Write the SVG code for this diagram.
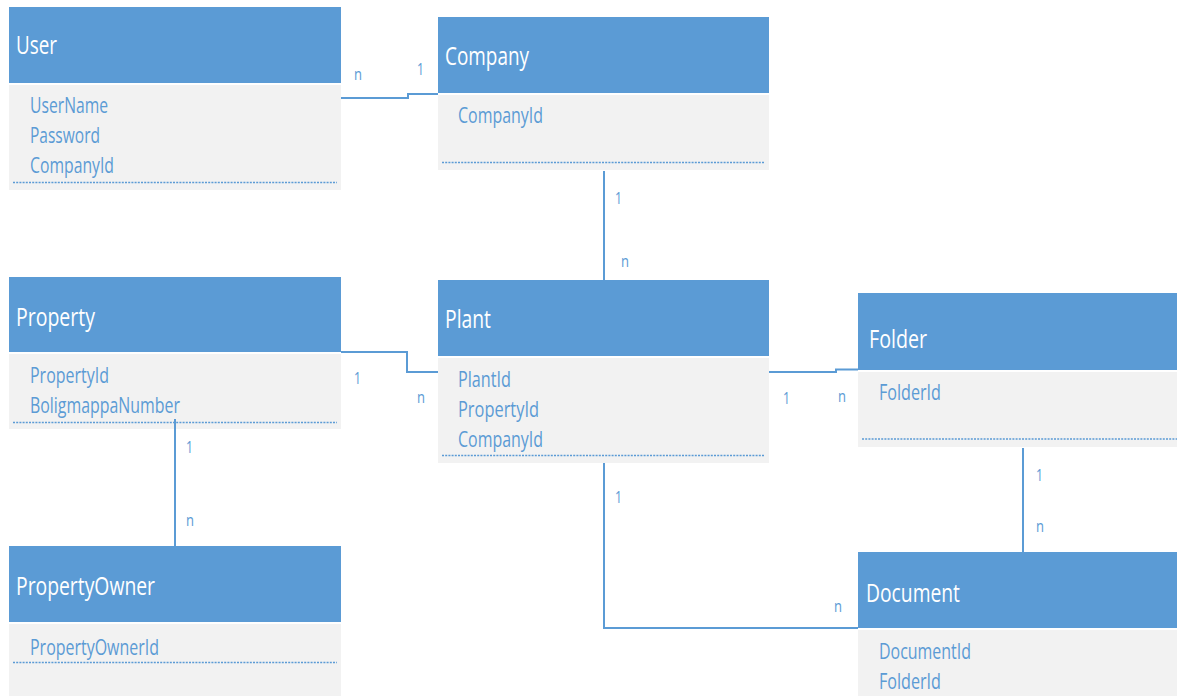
<svg xmlns="http://www.w3.org/2000/svg" width="1177" height="696" viewBox="0 0 1177 696">
<style>
.hd{fill:#5b9bd5}
.bd{fill:#f2f2f2}
.dot{stroke:#5b9bd5;stroke-width:1.5;stroke-dasharray:2 1.2;fill:none}
.tt{font-family:"Open Sans","Noto Sans",sans-serif;font-size:26px;fill:#ffffff}
.at{font-family:"Open Sans","Noto Sans",sans-serif;font-size:21px;fill:#5b9bd5}
.lb{font-family:"Open Sans","Noto Sans",sans-serif;font-size:17px;fill:#5b9bd5}
.cn{stroke:#5b9bd5;stroke-width:2;fill:none}
</style>
<rect width="1177" height="696" fill="#ffffff"/>
<g id="user">
<rect class="hd" x="9" y="7" width="332" height="76"/>
<rect class="bd" x="9" y="85" width="332" height="105"/>
<text class="tt" x="16" y="54" textLength="41" lengthAdjust="spacingAndGlyphs">User</text>
<text class="at" x="30" y="113" textLength="78" lengthAdjust="spacingAndGlyphs">UserName</text>
<text class="at" x="30" y="143" textLength="70" lengthAdjust="spacingAndGlyphs">Password</text>
<text class="at" x="30" y="173" textLength="84" lengthAdjust="spacingAndGlyphs">CompanyId</text>
<line class="dot" x1="13" y1="182.5" x2="337" y2="182.5"/>
</g>
<g id="company">
<rect class="hd" x="438" y="17" width="331" height="76"/>
<rect class="bd" x="438" y="95" width="331" height="75"/>
<text class="tt" x="445" y="65" textLength="84" lengthAdjust="spacingAndGlyphs">Company</text>
<text class="at" x="458" y="123" textLength="85" lengthAdjust="spacingAndGlyphs">CompanyId</text>
<line class="dot" x1="442" y1="162.5" x2="765" y2="162.5"/>
</g>
<g id="property">
<rect class="hd" x="9" y="277" width="332" height="75"/>
<rect class="bd" x="9" y="354" width="332" height="75"/>
<text class="tt" x="16" y="326" textLength="79" lengthAdjust="spacingAndGlyphs">Property</text>
<text class="at" x="30" y="383" textLength="79" lengthAdjust="spacingAndGlyphs">PropertyId</text>
<text class="at" x="30" y="413" textLength="150" lengthAdjust="spacingAndGlyphs">BoligmappaNumber</text>
<line class="dot" x1="13" y1="422.5" x2="337" y2="422.5"/>
</g>
<g id="plant">
<rect class="hd" x="438" y="280" width="331" height="76"/>
<rect class="bd" x="438" y="358" width="331" height="105"/>
<text class="tt" x="445" y="328" textLength="46" lengthAdjust="spacingAndGlyphs">Plant</text>
<text class="at" x="458" y="387" textLength="53" lengthAdjust="spacingAndGlyphs">PlantId</text>
<text class="at" x="458" y="417" textLength="81" lengthAdjust="spacingAndGlyphs">PropertyId</text>
<text class="at" x="458" y="447" textLength="85" lengthAdjust="spacingAndGlyphs">CompanyId</text>
<line class="dot" x1="442" y1="455.5" x2="765" y2="455.5"/>
</g>
<g id="folder">
<rect class="hd" x="858" y="293" width="319" height="77"/>
<rect class="bd" x="858" y="372" width="319" height="75"/>
<text class="tt" x="869" y="348" textLength="58" lengthAdjust="spacingAndGlyphs">Folder</text>
<text class="at" x="879" y="400" textLength="62" lengthAdjust="spacingAndGlyphs">FolderId</text>
<line class="dot" x1="862" y1="439" x2="1177" y2="439"/>
</g>
<g id="document">
<rect class="hd" x="858" y="552" width="319" height="76"/>
<rect class="bd" x="858" y="630" width="319" height="66"/>
<text class="tt" x="866" y="602" textLength="94" lengthAdjust="spacingAndGlyphs">Document</text>
<text class="at" x="879" y="659" textLength="92" lengthAdjust="spacingAndGlyphs">DocumentId</text>
<text class="at" x="879" y="689" textLength="62" lengthAdjust="spacingAndGlyphs">FolderId</text>
</g>
<g id="propertyowner">
<rect class="hd" x="9" y="546" width="332" height="76"/>
<rect class="bd" x="9" y="624" width="332" height="72"/>
<text class="tt" x="16" y="595" textLength="139" lengthAdjust="spacingAndGlyphs">PropertyOwner</text>
<text class="at" x="30" y="655" textLength="129" lengthAdjust="spacingAndGlyphs">PropertyOwnerId</text>
<line class="dot" x1="13" y1="662.5" x2="337" y2="662.5"/>
</g>
<g id="connectors">
<path class="cn" d="M341 98 H408 V94 H438"/>
<path class="cn" d="M604 171 V280"/>
<path class="cn" d="M341 352 H407 V372 H438"/>
<path class="cn" d="M769 372 H836 V369.5 H858"/>
<path class="cn" d="M1023 448 V552"/>
<path class="cn" d="M604 463 V628 H858"/>
<path class="cn" d="M175 419 V546"/>
<text class="lb" x="354" y="80" textLength="8" lengthAdjust="spacingAndGlyphs">n</text>
<text class="lb" x="417" y="75" textLength="7" lengthAdjust="spacingAndGlyphs">1</text>
<text class="lb" x="615" y="204" textLength="7" lengthAdjust="spacingAndGlyphs">1</text>
<text class="lb" x="621" y="267" textLength="8" lengthAdjust="spacingAndGlyphs">n</text>
<text class="lb" x="354" y="384" textLength="7" lengthAdjust="spacingAndGlyphs">1</text>
<text class="lb" x="417" y="403" textLength="8" lengthAdjust="spacingAndGlyphs">n</text>
<text class="lb" x="783" y="404" textLength="7" lengthAdjust="spacingAndGlyphs">1</text>
<text class="lb" x="838" y="402" textLength="8" lengthAdjust="spacingAndGlyphs">n</text>
<text class="lb" x="1036" y="481" textLength="7" lengthAdjust="spacingAndGlyphs">1</text>
<text class="lb" x="1036" y="532" textLength="8" lengthAdjust="spacingAndGlyphs">n</text>
<text class="lb" x="615" y="503" textLength="7" lengthAdjust="spacingAndGlyphs">1</text>
<text class="lb" x="834" y="612" textLength="8" lengthAdjust="spacingAndGlyphs">n</text>
<text class="lb" x="186" y="453" textLength="7" lengthAdjust="spacingAndGlyphs">1</text>
<text class="lb" x="186" y="526" textLength="8" lengthAdjust="spacingAndGlyphs">n</text>
</g>
</svg>
